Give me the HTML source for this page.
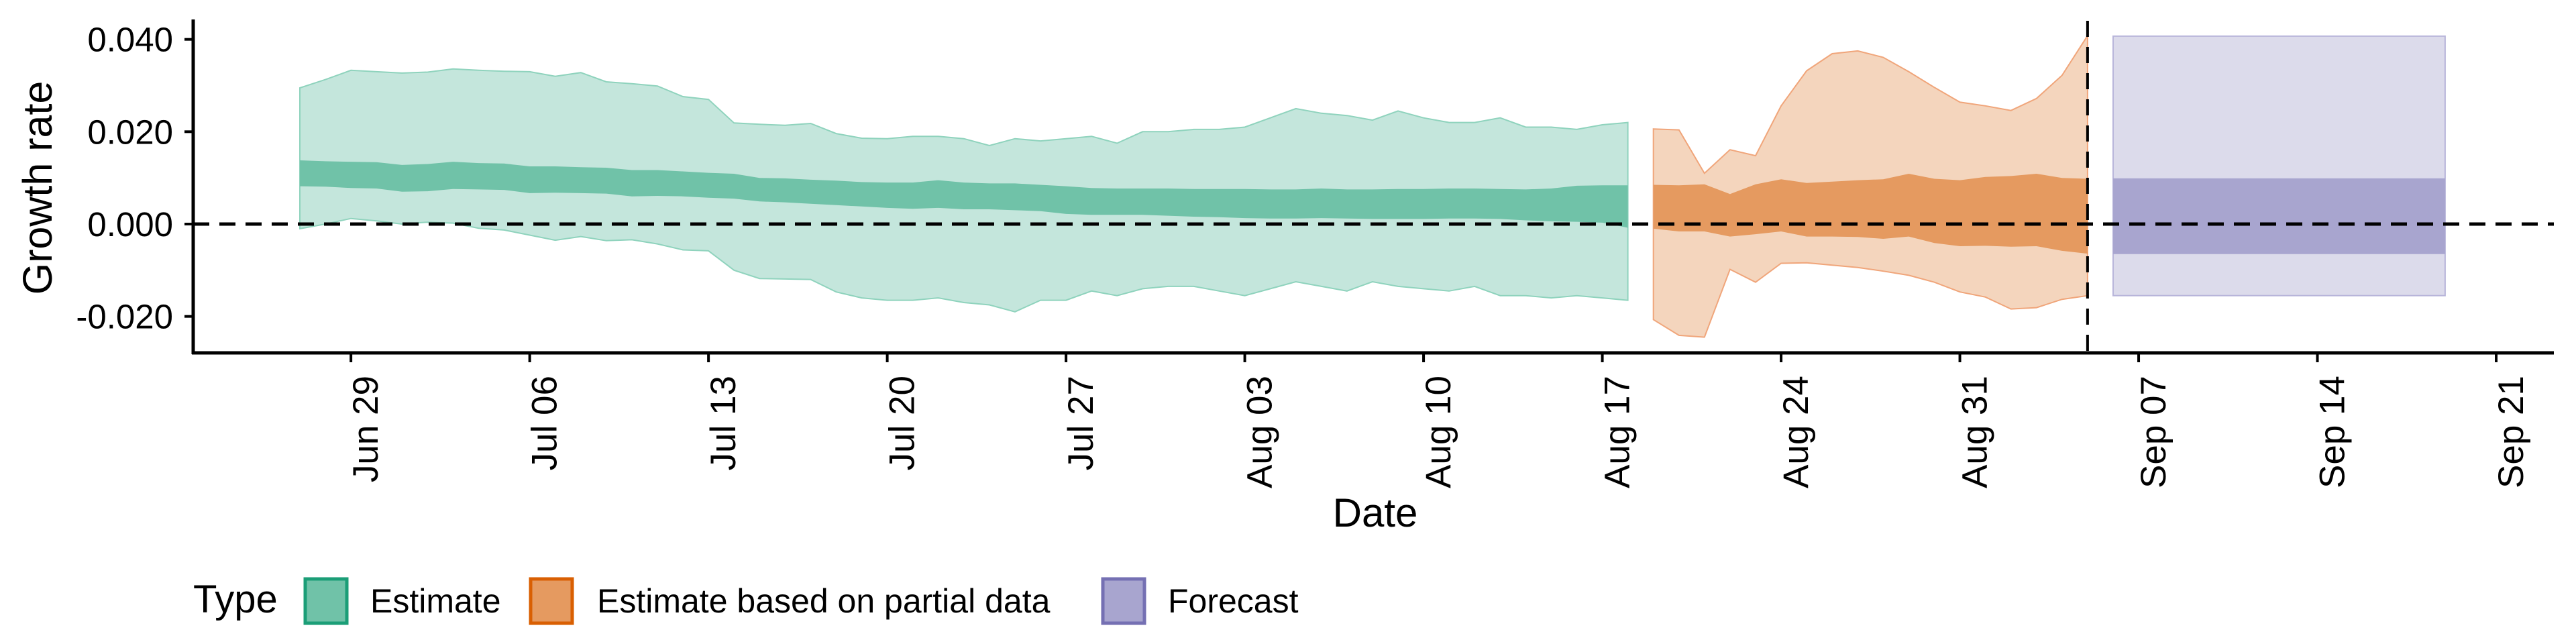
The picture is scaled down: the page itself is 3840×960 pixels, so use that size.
<!DOCTYPE html>
<html><head><meta charset="utf-8"><style>
html,body{margin:0;padding:0;background:#fff;}
svg{display:block;font-family:"Liberation Sans",Arial,sans-serif;}
</style></head><body>
<svg id="chart" width="3840" height="960" viewBox="0 0 3840 960" xmlns="http://www.w3.org/2000/svg">
<g id="bands"></g>
<g id="axes"></g>
<g id="legend">
 <text x="288" y="913" font-size="58">Type</text>
 <g>
  <rect x="455" y="863" width="62" height="66" fill="#70c2a8" stroke="#1b9e77" stroke-width="5"/>
  <text x="552" y="913" font-size="50">Estimate</text>
 </g>
 <g>
  <rect x="791" y="863" width="62" height="66" fill="#e59a60" stroke="#d95f02" stroke-width="5"/>
  <text x="890" y="913" font-size="50">Estimate based on partial data</text>
 </g>
 <g>
  <rect x="1644" y="863" width="62" height="66" fill="#a8a5cf" stroke="#7570b3" stroke-width="5"/>
  <text x="1741" y="913" font-size="50">Forecast</text>
 </g>
</g>
</svg>
<script>
const estStart = 0; // Jun 27 as day index 0
const estUpperOuter = [.0295,.0313,.0333,.033,.0327,.0329,.0336,.0333,.0331,.033,.032,.0328,.0308,.0304,.0299,.0276,.027,.0219,.0216,.0214,.0218,.0196,.0186,
 .0185,.019,.019,.0185,.017,.0185,.018,.0185,.019,.0175,.020,.020,.0205,.0205,.021,.023,.025,.024,.0235,.0225,.0245,.023,.022,.022,.023,.021,.021,.0205,.0215,.022];
const estLowerOuter = [-.001,0,.0012,.0007,0,.0004,.0002,-.0009,-.0013,-.0024,-.0035,-.0027,-.0036,-.0034,-.0043,-.0056,-.0058,-.010,-.0118,-.0119,-.012,-.0147,-.016,
 -.0165,-.0165,-.016,-.017,-.0175,-.019,-.0165,-.0165,-.0145,-.0155,-.014,-.0135,-.0135,-.0145,-.0155,-.014,-.0125,-.0135,-.0145,-.0125,-.0135,-.014,-.0145,-.0135,-.0155,-.0155,-.016,-.0155,-.016,-.0165];
const estUpperInner = [.0138,.0136,.0135,.0134,.0128,.013,.0135,.0132,.0131,.0125,.0125,.0123,.0122,.0117,.0117,.0114,.0111,.0109,.010,.0099,.0096,.0094,.0091,
 .009,.009,.0095,.009,.0088,.0088,.0085,.0082,.0078,.0077,.0077,.0077,.0076,.0076,.0076,.0075,.0075,.0077,.0075,.0075,.0076,.0076,.0077,.0077,.0076,.0075,.0077,.0083,.0084,.0084];
const estLowerInner = [.0082,.0081,.0078,.0077,.007,.0071,.0076,.0075,.0074,.0067,.0068,.0067,.0066,.006,.0061,.006,.0057,.0055,.0049,.0047,.0044,.0041,.0038,
 .0035,.0033,.0035,.0032,.0032,.003,.0028,.0022,.002,.002,.002,.0018,.0016,.0015,.0013,.0012,.0012,.0013,.0012,.0011,.0011,.0011,.0012,.0012,.0011,.0008,.0006,.0005,.0003,-.0008];
const partStart = 53; // Aug 19
const partUpperOuter = [.0206,.0204,.011,.0161,.0148,.0256,.0332,.0369,.0375,.0361,.033,.0296,.0264,.0256,.0246,.0272,.0322,.0408];
const partUpperInner = [.0085,.0084,.0086,.0065,.0086,.0097,.0089,.0092,.0095,.0097,.0109,.0098,.0095,.0102,.0104,.0109,.010,.0098];
const partLowerInner = [-.001,-.0016,-.0016,-.0027,-.0022,-.0016,-.0027,-.0027,-.0028,-.0032,-.0027,-.0041,-.0048,-.0047,-.0049,-.0048,-.0058,-.0064];
const partLowerOuter = [-.0207,-.0241,-.0245,-.0098,-.0126,-.0085,-.0084,-.0089,-.0094,-.0102,-.0111,-.0126,-.0147,-.0158,-.0184,-.0181,-.0163,-.0155];
const fcStart = 71, fcEnd = 84; // Sep 06 .. Sep 19
const fcBand = [-.0155,-.0065,.0099,.0407];
const yTicks = [-0.02,0,0.02,0.04];
const yTickLabels = ["-0.020","0.000","0.020","0.040"];
const xTickDays = [2,9,16,23,30,37,44,51,58,65,72,79,86];
const xTickLabels = ["Jun 29","Jul 06","Jul 13","Jul 20","Jul 27","Aug 03","Aug 10","Aug 17","Aug 24","Aug 31","Sep 07","Sep 14","Sep 21"];
const cutoffDay = 70;

const X = d => 447 + d*38.07;
const Y = v => 334 - v*6883;
const NS = "http://www.w3.org/2000/svg";
function mk(tag, attrs, parent){const e=document.createElementNS(NS,tag);for(const k in attrs)e.setAttribute(k,attrs[k]);parent.appendChild(e);return e;}
const bands=document.getElementById('bands'), axes=document.getElementById('axes');
function band(start, up, lo, fill, stroke, name){
  let d='M'+up.map((v,i)=>X(start+i).toFixed(1)+','+Y(v).toFixed(1)).join('L');
  for(let i=lo.length-1;i>=0;i--) d+='L'+X(start+i).toFixed(1)+','+Y(lo[i]).toFixed(1);
  const p=mk('path',{d:d+'Z',fill:fill,stroke:stroke,'stroke-width':stroke==='none'?0:2},bands);
  
  
}
band(estStart,estUpperOuter,estLowerOuter,'#c4e6dc','#8fd3bd','estimate-outer-band');
band(estStart,estUpperInner,estLowerInner,'#70c2a8','none','estimate-inner-band');
band(partStart,partUpperOuter,partLowerOuter,'#f4d5bd','#f0a57a','partial-outer-band');
band(partStart,partUpperInner,partLowerInner,'#e59a60','none','partial-inner-band');
const fo=mk('rect',{x:X(fcStart),y:Y(fcBand[3]),width:X(fcEnd)-X(fcStart),height:Y(fcBand[0])-Y(fcBand[3]),fill:'#dcdbeb',stroke:'#b8b5da','stroke-width':2},bands);


const fi=mk('rect',{x:X(fcStart),y:Y(fcBand[2]),width:X(fcEnd)-X(fcStart),height:Y(fcBand[1])-Y(fcBand[2]),fill:'#a8a5cf'},bands);


// reference lines
const zl=mk('line',{x1:288,x2:3807,y1:Y(0),y2:Y(0),stroke:'#000','stroke-width':5,'stroke-dasharray':'24 15'},axes);


const cl=mk('line',{x1:X(cutoffDay),x2:X(cutoffDay),y1:31,y2:526,stroke:'#000','stroke-width':4,'stroke-dasharray':'24 15'},axes);


// axes
const ya=mk('line',{x1:288,x2:288,y1:29,y2:528,stroke:'#000','stroke-width':5},axes);


const xa=mk('line',{x1:286,x2:3807,y1:526,y2:526,stroke:'#000','stroke-width':5},axes);


yTicks.forEach((v,i)=>{
  mk('line',{x1:275,x2:288,y1:Y(v),y2:Y(v),stroke:'#000','stroke-width':4},axes);
  const t=mk('text',{x:258,y:Y(v)+18,'font-size':51,'text-anchor':'end'},axes);
  t.textContent=yTickLabels[i];
  
  
});
xTickDays.forEach((d,i)=>{
  mk('line',{x1:X(d),x2:X(d),y1:526,y2:540,stroke:'#000','stroke-width':4},axes);
  const t=mk('text',{x:0,y:0,'font-size':53,'text-anchor':'end',transform:`translate(${X(d)+40},560) rotate(-90)`},axes);
  t.textContent=xTickLabels[i];
  
  
});
const yt=mk('text',{x:0,y:0,'font-size':61,'text-anchor':'middle',transform:'translate(77,280) rotate(-90)'},axes);
yt.textContent='Growth rate';


const xt=mk('text',{x:2050,y:785,'font-size':60,'text-anchor':'middle'},axes);
xt.textContent='Date';


</script>
</body></html>
